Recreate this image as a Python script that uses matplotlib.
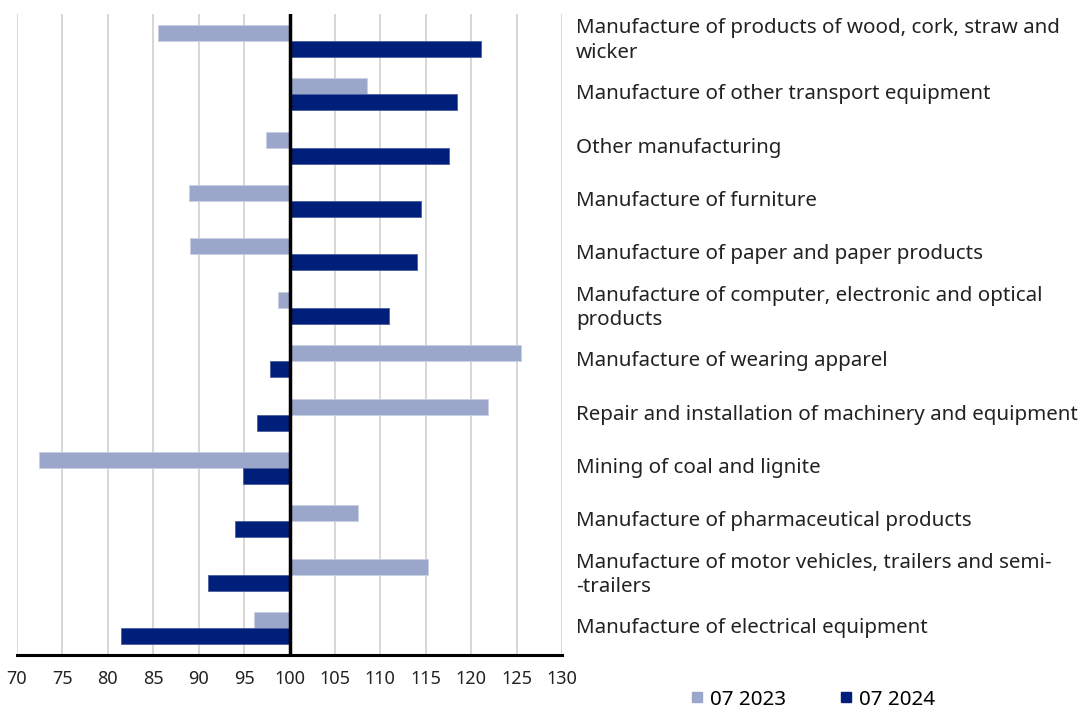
import numpy as np
import matplotlib.pyplot as plt
from matplotlib.lines import Line2D

plt.rcParams['font.family'] = ['Noto Sans', 'DejaVu Sans']

categories = [
    'Manufacture of products of wood, cork, straw and\nwicker',
    'Manufacture of other transport equipment',
    'Other manufacturing',
    'Manufacture of furniture',
    'Manufacture of paper and paper products',
    'Manufacture of computer, electronic and optical\nproducts',
    'Manufacture of wearing apparel',
    'Repair and installation of machinery and equipment',
    'Mining of coal and lignite',
    'Manufacture of pharmaceutical products',
    'Manufacture of motor vehicles, trailers and semi-\n-trailers',
    'Manufacture of electrical equipment',
]
v2023 = [85.5, 108.5, 97.4, 88.9, 89.1, 98.7, 125.5, 121.9, 72.4, 107.5, 115.2, 96.1]
v2024 = [121.1, 118.4, 117.6, 114.5, 114.0, 111.0, 97.9, 96.4, 94.9, 94.0, 91.0, 81.4]
series_names = ['07 2023', '07 2024']
xticks = list(range(70, 131, 5))
base = 100

light = '#9AA7CA'
dark = '#001F7A'

fig = plt.figure(figsize=(10.88, 7.09), dpi=100)
ax = fig.add_axes([17 / 1088, 54 / 709, 545 / 1088, 641 / 709])

y = np.arange(len(categories))
h = 0.3
ax.barh(y - h / 2, np.array(v2023) - base, left=base, height=h, color=light,
        edgecolor='#C9D0E4', linewidth=0.6, zorder=3)
ax.barh(y + h / 2, np.array(v2024) - base, left=base, height=h, color=dark,
        edgecolor='#4A5FA0', linewidth=0.6, zorder=3)

ax.set_xlim(70, 130)
ax.set_ylim(len(categories) - 0.5, -0.5)
ax.set_xticks(xticks)
ax.set_xticklabels([str(t) for t in xticks], fontsize=13, color='#222222')
ax.grid(axis='x', color='#D0D0D0', linewidth=1.2, zorder=0)
ax.axvline(base, color='black', linewidth=2.5, zorder=4)

for s in ['top', 'left', 'right']:
    ax.spines[s].set_visible(False)
ax.spines['bottom'].set_linewidth(2.2)
ax.spines['bottom'].set_zorder(5)
ax.tick_params(axis='x', length=0, pad=11)

ax.yaxis.tick_right()
ax.set_yticks(y)
ax.set_yticklabels(categories, fontsize=14.8, color='#222222', ha='left',
                   linespacing=1.3, va='center')
ax.tick_params(axis='y', length=0, pad=10)

handles = [Line2D([], [], marker='s', linestyle='none', color=light, markersize=7),
           Line2D([], [], marker='s', linestyle='none', color=dark, markersize=7)]
fig.legend(handles, series_names, loc='lower left', bbox_to_anchor=(668 / 1088, -0.027),
           ncol=2, frameon=False, fontsize=14.8, handletextpad=0.15,
           columnspacing=2.4, handlelength=1.0)

fig.savefig('out.png', dpi=100)
